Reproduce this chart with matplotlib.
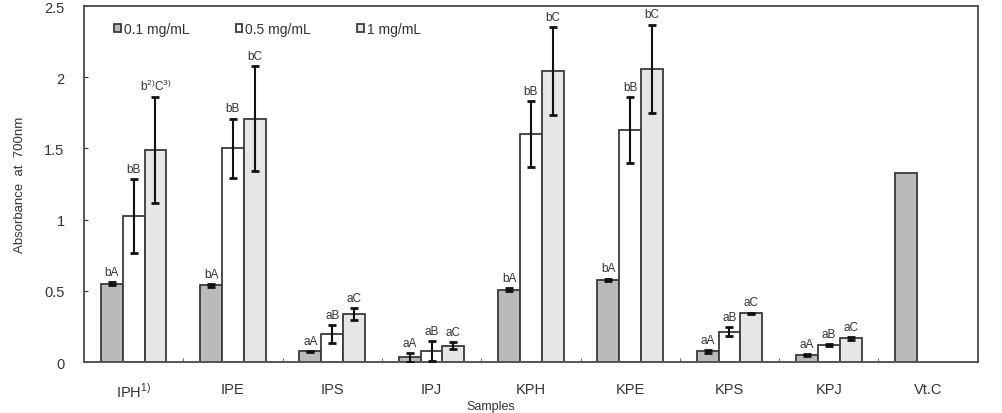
import numpy as np
import matplotlib
matplotlib.use('Agg')
import matplotlib.pyplot as plt

plt.rcParams['font.family'] = ['Liberation Sans', 'DejaVu Sans']
plt.rcParams['mathtext.fontset'] = 'custom'
plt.rcParams['mathtext.rm'] = 'Liberation Sans'

samples = ['IPH$^{1)}$', 'IPE', 'IPS', 'IPJ', 'KPH', 'KPE', 'KPS', 'KPJ', 'Vt.C']
series = ['0.1 mg/mL', '0.5 mg/mL', '1 mg/mL']

# absorbance means and standard deviations for each concentration
low = [0.55, 0.54, 0.075, 0.033, 0.508, 0.576, 0.075, 0.049, 1.327]
low_err = [0.01, 0.01, 0.005, 0.03, 0.01, 0.01, 0.01, 0.005, 0.0]
mid = [1.025, 1.50, 0.197, 0.08, 1.60, 1.63, 0.213, 0.12, 0.0]
mid_err = [0.26, 0.21, 0.06, 0.07, 0.23, 0.23, 0.03, 0.005, 0.0]
high = [1.49, 1.71, 0.337, 0.115, 2.045, 2.06, 0.342, 0.166, 0.0]
high_err = [0.37, 0.37, 0.04, 0.025, 0.31, 0.31, 0.005, 0.012, 0.0]

low_lbl = ['bA', 'bA', 'aA', 'aA', 'bA', 'bA', 'aA', 'aA', '']
mid_lbl = ['bB', 'bB', 'aB', 'aB', 'bB', 'bB', 'aB', 'aB', '']
high_lbl = ['b$^{2)}$C$^{3)}$', 'bC', 'aC', 'aC', 'bC', 'bC', 'aC', 'aC', '']

fig = plt.figure(figsize=(10.02, 4.14), dpi=100)
ax = fig.add_axes([0.0838, 0.123, 0.892, 0.860])

x = np.arange(len(samples))
w = 0.22
colors = ['#bababa', '#ffffff', '#e6e6e6']
data = [(low, low_err, low_lbl), (mid, mid_err, mid_lbl), (high, high_err, high_lbl)]

handles = []
for k, (vals, errs, lbls) in enumerate(data):
    xs = x + (k - 1) * w
    vals = np.array(vals)
    keep = vals > 0
    b = ax.bar(xs[keep], vals[keep], w, color=colors[k], edgecolor='#3a3a3a',
               linewidth=1.3, label=series[k], zorder=2)
    handles.append(b)
    errs = np.array(errs)
    ek = keep & (errs > 0)
    ax.errorbar(xs[ek], vals[ek], yerr=errs[ek], fmt='none', ecolor='#111111',
                elinewidth=1.5, capsize=3, capthick=2, zorder=3)
    for xi, v, e, t in zip(xs, vals, errs, lbls):
        if t:
            ax.annotate(t, (xi, v + e), xytext=(0, 3), textcoords='offset points',
                        ha='center', va='bottom', fontsize=8.5, color='#333333')

ax.set_xlim(-0.5, len(samples) - 0.5)
ax.set_ylim(0, 2.5)
ax.set_yticks([0, 0.5, 1, 1.5, 2, 2.5])
ax.set_yticklabels(['0', '0.5', '1', '1.5', '2', '2.5'])
ax.set_xticks(x)
ax.set_xticklabels(samples)
ax.set_xticks(np.arange(-0.5, len(samples)), minor=True)
ax.tick_params(axis='x', which='major', length=0, pad=14, labelsize=10.5, colors='#333333')
ax.tick_params(axis='x', which='minor', length=3, direction='in', color='#555555')
ax.tick_params(axis='y', length=3, direction='in', pad=14, labelsize=10.5,
               colors='#333333')

for s in ax.spines.values():
    s.set_color('#555555')
    s.set_linewidth(1.4)

ax.set_ylabel('Absorbance  at  700nm', fontsize=9.5, color='#333333', labelpad=13)
fig.text(0.49, 1 / 414, 'Samples', ha='center', va='bottom', fontsize=9,
         color='#333333')

ax.legend(handles=handles, loc='upper left', ncol=3, frameon=False,
          bbox_to_anchor=(0.02, 0.99), handlelength=0.5, handleheight=0.5,
          handletextpad=0.2, columnspacing=3.3, fontsize=10,
          labelcolor='#333333')

fig.savefig('out.png', dpi=100)
